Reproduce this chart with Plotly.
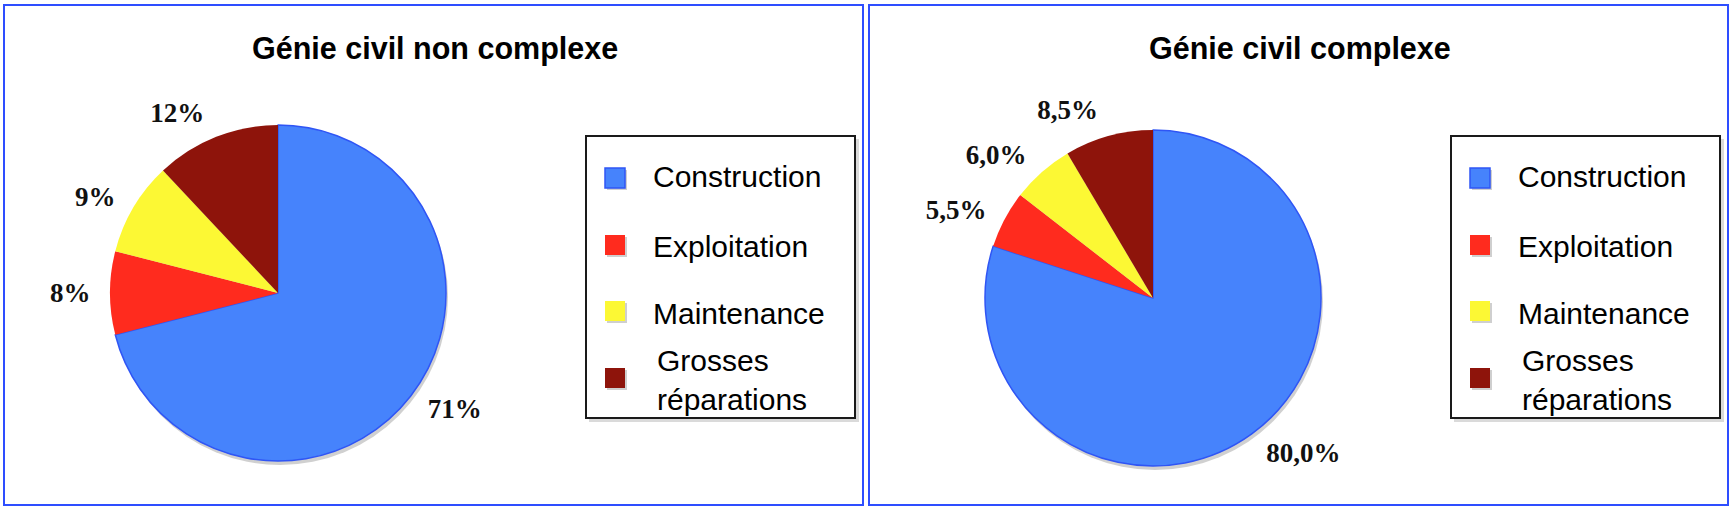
import plotly.graph_objects as go

W, H = 1735, 511

categories = ["Construction", "Exploitation", "Maintenance", "Grosses<br>réparations"]
left_title = "Génie civil non complexe"
right_title = "Génie civil complexe"
left_values = [71, 8, 9, 12]
left_text = ["71%", "8%", "9%", "12%"]
right_values = [80.0, 5.5, 6.0, 8.5]
right_text = ["80,0%", "5,5%", "6,0%", "8,5%"]
colors = ["#4683FC", "#FF2B1E", "#FCF834", "#8E140B"]
line_colors = ["#2F55F5", "#FF2B1E", "#FCF834", "#8E140B"]
line_widths = [1.5, 0, 0, 0]


def px(x):
    return x / W


def py(y):
    return 1 - y / H


fig = go.Figure()

panels = [
    dict(off=0, cx=278, cy=293, values=left_values, text=left_text, title=left_title),
    dict(off=865, cx=1153, cy=298, values=right_values, text=right_text, title=right_title),
]
R = 168
RL = 180  # radius used to place the outside labels
labels_plain = [c.replace("<br>", " ") for c in categories]

shapes = []
annotations = []
for p in panels:
    cx, cy = p["cx"], p["cy"]
    # soft shadow under the pie
    fig.add_trace(go.Pie(
        values=[sum(p["values"])], labels=["ombre"], textinfo="none", sort=False,
        marker=dict(colors=["rgba(120,120,120,0.35)"], line=dict(width=0)),
        domain=dict(x=[px(cx - R + 2), px(cx + R + 2)], y=[py(cy + R + 4), py(cy - R + 4)]),
        showlegend=False, hoverinfo="skip",
    ))
    # the pie itself
    fig.add_trace(go.Pie(
        labels=labels_plain,
        values=p["values"],
        text=p["text"],
        textinfo="none",
        sort=False,
        direction="clockwise",
        rotation=0,
        marker=dict(colors=colors, line=dict(color=line_colors, width=line_widths)),
        domain=dict(x=[px(cx - R), px(cx + R)], y=[py(cy + R), py(cy - R)]),
        showlegend=False,
        hoverinfo="label+text",
    ))
    # transparent copy used only to place the percentage labels a bit further out
    fig.add_trace(go.Pie(
        labels=labels_plain,
        values=p["values"],
        text=p["text"],
        textinfo="text",
        textposition="outside",
        outsidetextfont=dict(family="Liberation Serif", size=27, color="#111111", weight="bold"),
        sort=False,
        direction="clockwise",
        rotation=0,
        marker=dict(colors=["rgba(0,0,0,0)"] * 4, line=dict(width=0)),
        domain=dict(x=[px(cx - RL), px(cx + RL)], y=[py(cy + RL), py(cy - RL)]),
        showlegend=False,
        hoverinfo="skip",
    ))
    o = p["off"]
    # panel frame
    shapes.append(dict(type="rect", xref="paper", yref="paper",
                       x0=px(o + 4), x1=px(o + 863), y0=py(505), y1=py(5),
                       line=dict(color="#2E4EFF", width=2), fillcolor="rgba(0,0,0,0)", layer="below"))
    # title
    annotations.append(dict(text="<b>" + p["title"] + "</b>", xref="paper", yref="paper",
                            x=px(o + 435), y=py(49), xanchor="center", yanchor="middle",
                            showarrow=False, font=dict(family="Liberation Sans", size=30.5, color="#000000")))
    # legend shadow and box
    shapes.append(dict(type="rect", xref="paper", yref="paper",
                       x0=px(o + 589), x1=px(o + 859), y0=py(422), y1=py(139),
                       line=dict(width=0), fillcolor="#DADADA", layer="below"))
    shapes.append(dict(type="rect", xref="paper", yref="paper",
                       x0=px(o + 586), x1=px(o + 855), y0=py(418), y1=py(136),
                       line=dict(color="#1A1A1A", width=2), fillcolor="#FFFFFF", layer="below"))
    item_y = [178, 245, 311, 378]
    text_y = [176, 246, 313, 380]
    for i, cat in enumerate(categories):
        shapes.append(dict(type="rect", xref="paper", yref="paper",
                           x0=px(o + 607), x1=px(o + 627), y0=py(item_y[i] + 12), y1=py(item_y[i] - 8),
                           line=dict(width=0), fillcolor="#CFCFCF", layer="above"))
        shapes.append(dict(type="rect", xref="paper", yref="paper",
                           x0=px(o + 605), x1=px(o + 625), y0=py(item_y[i] + 10), y1=py(item_y[i] - 10),
                           line=dict(color=line_colors[i], width=1.5 if i == 0 else 0),
                           fillcolor=colors[i], layer="above"))
        annotations.append(dict(text=cat, xref="paper", yref="paper",
                                x=px(o + 651 + (4 if i == 3 else 0)), y=py(text_y[i]),
                                xanchor="left", yanchor="middle", align="left",
                                showarrow=False,
                                font=dict(family="Liberation Sans", size=30, color="#000000")))

fig.update_layout(
    width=W, height=H,
    margin=dict(l=0, r=0, t=0, b=0),
    paper_bgcolor="#FFFFFF",
    plot_bgcolor="#FFFFFF",
    shapes=shapes,
    annotations=annotations,
)

fig.write_html("out.html")
